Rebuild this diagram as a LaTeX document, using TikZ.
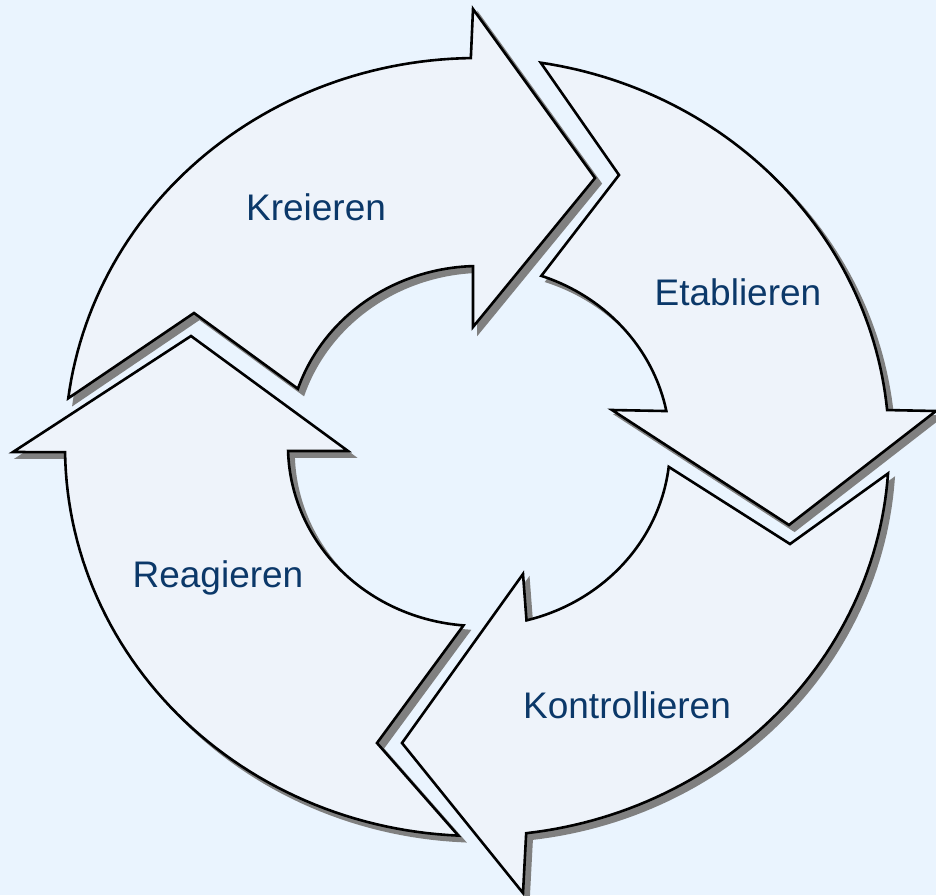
\documentclass[tikz,border=0pt]{standalone}
\usepackage{fontspec}
\setmainfont{Liberation Sans}
\definecolor{bgcol}{RGB}{234,244,254}
\definecolor{arrowfill}{RGB}{238,243,250}
\definecolor{shadowcol}{RGB}{128,128,128}
\definecolor{txtcol}{RGB}{11,56,105}
\tikzset{
  cyclearrow/.style={draw=black, line width=2.6pt, fill=arrowfill, line join=miter,
    preaction={draw=shadowcol, fill=shadowcol, line width=2.6pt, transform canvas={shift={(5.5,5.5)}}}},
  lbl/.style={text=txtcol, font=\fontsize{37}{44}\selectfont, inner sep=0pt},
  pdom/.style={domain=0:1, samples=60, variable=\t}
}
\begin{document}
\begin{tikzpicture}[x=1pt, y=-1pt]
\useasboundingbox (0,0) rectangle (936,895);
\fill[bgcol] (0,0) rectangle (936,895);
% Kreieren
\path[cyclearrow] plot[pdom] ({477+412*cos(-172.8+82*\t)},{447+389*sin(-172.8+82*\t)})
  -- (473,9) -- (595,178) -- (473,327)
  -- plot[pdom] ({479+191*cos(-91.8-69.7*\t)},{446+180*sin(-91.8-69.7*\t)})
  -- (194,313) -- cycle;
% Etablieren
\path[cyclearrow] plot[pdom] ({477+412*cos(-81.1+75.7*\t)},{447+389*sin(-81.1+75.7*\t)})
  -- (936,411) -- (789,525) -- (612,410)
  -- plot[pdom] ({479+191*cos(-11.2-59.8*\t)},{446+180*sin(-11.2-59.8*\t)})
  -- (619,175) -- cycle;
% Kontrollieren
\path[cyclearrow] plot[pdom] ({477+412*cos(3.9+79.3*\t)},{447+389*sin(3.9+79.3*\t)})
  -- (523,893) -- (402,743) -- (523,574)
  -- plot[pdom] ({479+191*cos(75.6-69*\t)},{446+180*sin(75.6-69*\t)})
  -- (790,544) -- cycle;
% Reagieren
\path[cyclearrow] plot[pdom] ({477+412*cos(92.6+86.7*\t)},{447+389*sin(92.6+86.7*\t)})
  -- (13,452) -- (191,336) -- (348,451)
  -- plot[pdom] ({479+191*cos(178.4-83.8*\t)},{446+180*sin(178.4-83.8*\t)})
  -- (377,743) -- cycle;
\node[lbl] (kre) at (316,207) {Kreieren};
\node[lbl] (eta) at (738,292) {Etablieren};
\node[lbl] (rea) at (218,578) {Reagieren};
\node[lbl] (kon) at (627,705) {Kontrollieren};
\end{tikzpicture}
\end{document}
